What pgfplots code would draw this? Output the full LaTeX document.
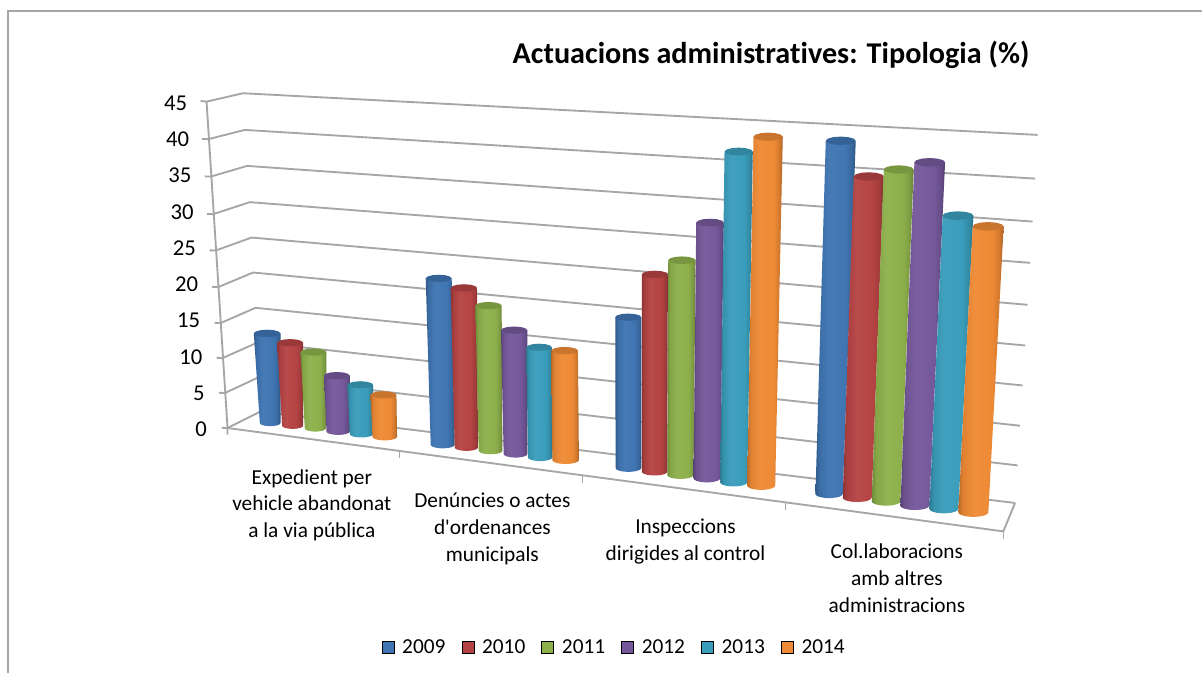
\documentclass[border=0pt]{standalone}
\usepackage{fontspec}
\setmainfont{Carlito}[Ligatures={TeXOff,NoCommon}]
\usepackage{pgfplots}
\pgfplotsset{compat=1.18}

\definecolor{c2009}{HTML}{3F75B2}
\definecolor{c2010}{HTML}{B54343}
\definecolor{c2011}{HTML}{8DB04B}
\definecolor{c2012}{HTML}{75589B}
\definecolor{c2013}{HTML}{3A9DBB}
\definecolor{c2014}{HTML}{EE8A35}
\definecolor{wall}{HTML}{A6A6A6}

% cylinder side shading, one per series
\newcommand\defshade[1]{%
  \pgfdeclarehorizontalshading{cyl#1}{100bp}{%
    color(0bp)=(#1!78!black); color(25bp)=(#1!78!black); color(30bp)=(#1!94!black);
    color(42bp)=(#1!96!white); color(62bp)=(#1); color(70bp)=(#1!88!black);
    color(75bp)=(#1!72!black); color(100bp)=(#1!72!black)}}
\defshade{c2009}\defshade{c2010}\defshade{c2011}\defshade{c2012}\defshade{c2013}\defshade{c2014}

% append points of an ellipse to \pts: cx, cy, rx, ry, angle list
\newcommand\arcpts[5]{%
  \pgfplotsforeachungrouped \ang in {#5}{%
    \pgfmathsetmacro\ptx{#1+#3*cos(\ang)}%
    \pgfmathsetmacro\pty{#2-#4*sin(\ang)}%
    \xdef\pts{\pts(\ptx,\pty)}}}

% series, value (%), px per %, base y, bottom left/right x, top left/right x
\newcommand\cyl[8]{%
  \pgfmathsetmacro\ytop{#4-#2*#3}%
  \pgfmathsetmacro\xbc{(#5+#6)/2}\pgfmathsetmacro\rbot{(#6-#5)/2}%
  \pgfmathsetmacro\xtc{(#7+#8)/2}\pgfmathsetmacro\rtop{(#8-#7)/2}%
  \pgfmathsetmacro\hbot{\rbot*0.3}\pgfmathsetmacro\htop{\rtop*0.28}%
  \xdef\pts{(#7,\ytop)}%
  \arcpts{\xbc}{#4}{\rbot}{\hbot}{180,200,220,240,260,280,300,320,340,360}%
  \xdef\pts{\pts(#8,\ytop)}%
  \edef\drawit{\noexpand\addplot[px,forget plot,draw=none,shade,shading=cyl#1] coordinates {\pts} -- cycle;}\drawit
  \xdef\pts{}%
  \arcpts{\xtc}{\ytop}{\rtop}{\htop}{0,30,60,90,120,150,180,210,240,270,300,330}%
  \edef\drawit{\noexpand\addplot[px,forget plot,draw=none,fill=#1!85!black] coordinates {\pts} -- cycle;}\drawit
}

\begin{document}
\begin{tikzpicture}
\begin{axis}[
    scale only axis, width=902.25pt, height=504.75pt,
    xmin=0, xmax=1203, ymin=-33.71, ymax=59.01,
    clip=false,
    axis line style={draw=none},
    xtick=\empty,
    ytick={0,5,...,45},
    major tick length=0pt,
    y tick style={draw=none},
    y tick label style={anchor=west, inner sep=0pt, yshift=-1pt, font=\fontsize{17}{20}\selectfont},
    yticklabels={\makebox[155pt][r]{0},\makebox[153.35pt][r]{5},\makebox[151.7pt][r]{10},\makebox[150.05pt][r]{15},\makebox[148.4pt][r]{20},\makebox[146.75pt][r]{25},\makebox[145.1pt][r]{30},\makebox[143.45pt][r]{35},\makebox[141.8pt][r]{40},\makebox[140.15pt][r]{45}},
    title={\fontsize{22.66}{26}\selectfont\bfseries Actuacions administratives: Tipologia (\%)},
    title style={at={(0.6413,0.9063)}, anchor=center, inner sep=0pt},
    px/.style={y filter/.expression={(428.3-y)/7.258}},
    wl/.style={px, forget plot, no markers, draw=wall, line width=1.4pt},
    legend columns=6,
    legend style={at={(0.5112,0.0371)}, anchor=center, draw=none, fill=none,
      font=\fontsize{16}{19}\selectfont,
      /tikz/every odd column/.append style={column sep=4pt},
      /tikz/every even column/.append style={column sep=10.1pt}},
    legend image code/.code={\fill[#1] (0pt,-4.5pt) rectangle (9pt,4.5pt);},
  ]
  % outer frame
  \addplot[px, forget plot, no markers, draw=wall, line width=1.2pt] coordinates {(8,673)(8,11)(1203,11)};

  % gridlines: tick, left wall, back wall
  \addplot[wl] coordinates {(200.7,101)(206.7,101.7)(243.3,93.3)(1038.3,135)};
  \addplot[wl] coordinates {(202.3,139)(208.3,139.3)(245,130)(1035.7,178.7)};
  \addplot[wl] coordinates {(205,176.5)(211,176.7)(247.3,166)(1033.3,221.7)};
  \addplot[wl] coordinates {(207.3,214)(213.3,214.3)(250,202.3)(1030.7,263)};
  \addplot[wl] coordinates {(209.7,250.5)(215.7,250.7)(251.7,237.7)(1028.3,305)};
  \addplot[wl] coordinates {(212.3,287)(218.3,287.3)(253.3,272.7)(1025.7,345.7)};
  \addplot[wl] coordinates {(214.7,323)(220.7,323.3)(255.7,308)(1023.3,385.7)};
  \addplot[wl] coordinates {(216.7,358)(222.7,358.3)(257.7,342.7)(1020.7,426)};
  \addplot[wl] coordinates {(219,393)(225,393.3)(259.3,377.3)(1018.3,465.7)};
  \addplot[wl] coordinates {(221.7,428)(227.7,428.3)(260.7,411.7)(1015.7,503.3)};
  % value axis and floor
  \addplot[wl] coordinates {(206.7,101.7)(227.7,428.3)(227.7,435)};
  \addplot[wl] coordinates {(227.7,428.3)(1004,531.7)(1015.7,503.3)};
  \addplot[wl, line width=.8pt] coordinates {(399.3,451)(399.3,458)};
  \addplot[wl, line width=.8pt] coordinates {(583,476)(583,483)};
  \addplot[wl, line width=.8pt] coordinates {(786,503)(786,510)};
  \addplot[wl, line width=.8pt] coordinates {(1004,532)(1004,539)};

  % Expedient per vehicle abandonat
  \cyl{c2009}{12.2}{7.35}{423.3}{260}{280.7}{254}{280.7}
  \cyl{c2010}{11.3}{7.35}{426}{282.3}{303.3}{277.3}{303.3}
  \cyl{c2011}{10.4}{7.35}{428.7}{305}{326}{300.7}{326.7}
  \cyl{c2012}{7.6}{7.35}{431.7}{326.7}{350}{324.3}{350}
  \cyl{c2013}{6.7}{7.35}{434.3}{350}{373.3}{347.7}{373.3}
  \cyl{c2014}{5.7}{7.35}{437}{372.7}{397.3}{370.7}{396.7}
  % Denuncies o actes
  \cyl{c2009}{21.9}{7.6}{445}{431}{455}{426}{452}
  \cyl{c2010}{21.0}{7.6}{447.7}{455}{478.3}{451}{477.3}
  \cyl{c2011}{19.1}{7.6}{451}{479}{502.7}{475.7}{502}
  \cyl{c2012}{16.3}{7.6}{454.3}{504}{527.7}{501.3}{527.7}
  \cyl{c2013}{14.5}{7.6}{457.7}{528.3}{552.7}{526.7}{552.3}
  \cyl{c2014}{14.4}{7.6}{460.3}{552.7}{579.3}{551.7}{578.3}
  % Inspeccions
  \cyl{c2009}{19.1}{7.9}{468.3}{616}{641.7}{615.7}{641.7}
  \cyl{c2010}{25.0}{7.9}{472}{642.3}{667.7}{642.3}{668.3}
  \cyl{c2011}{27.2}{7.9}{475.3}{667.7}{694}{668.7}{696}
  \cyl{c2012}{32.4}{7.9}{478.7}{694}{720.7}{696.7}{724.3}
  \cyl{c2013}{41.9}{7.9}{482.7}{720.7}{747.7}{725}{753.3}
  \cyl{c2014}{44.2}{7.9}{486}{747.7}{775.7}{754}{783.3}
  % Col.laboracions
  \cyl{c2009}{43.1}{8.2}{494.3}{816}{843.3}{826.3}{856.3}
  \cyl{c2010}{39.2}{8.2}{498}{843.3}{872.3}{854.3}{884.3}
  \cyl{c2011}{40.5}{8.2}{501.7}{872.3}{901}{884.3}{914.3}
  \cyl{c2012}{41.9}{8.2}{506}{901}{930}{915}{945.7}
  \cyl{c2013}{35.8}{8.2}{509.3}{930}{959}{943.3}{974}
  \cyl{c2014}{34.9}{8.2}{512.7}{959}{989}{973.3}{1004.3}

  % category labels
  \node[align=center, font=\fontsize{16}{20}\selectfont] at (axis cs:312,-10.65) {Expedient per\\vehicle abandonat\\a la via pública};
  \node[align=center, font=\fontsize{16}{20}\selectfont] at (axis cs:492.7,-13.9) {Denúncies o actes\\d'ordenances\\municipals};
  \node[align=center, font=\fontsize{16}{20}\selectfont] at (axis cs:686,-15.65) {Inspeccions\\dirigides al control};
  \node[align=center, font=\fontsize{16}{20}\selectfont] at (axis cs:897.5,-20.7) {Col.laboracions\\amb altres\\administracions};

  \addlegendimage{fill=c2009}\addlegendentry{2009}
  \addlegendimage{fill=c2010}\addlegendentry{2010}
  \addlegendimage{fill=c2011}\addlegendentry{2011}
  \addlegendimage{fill=c2012}\addlegendentry{2012}
  \addlegendimage{fill=c2013}\addlegendentry{2013}
  \addlegendimage{fill=c2014}\addlegendentry{2014}
\end{axis}
\end{tikzpicture}
\end{document}
